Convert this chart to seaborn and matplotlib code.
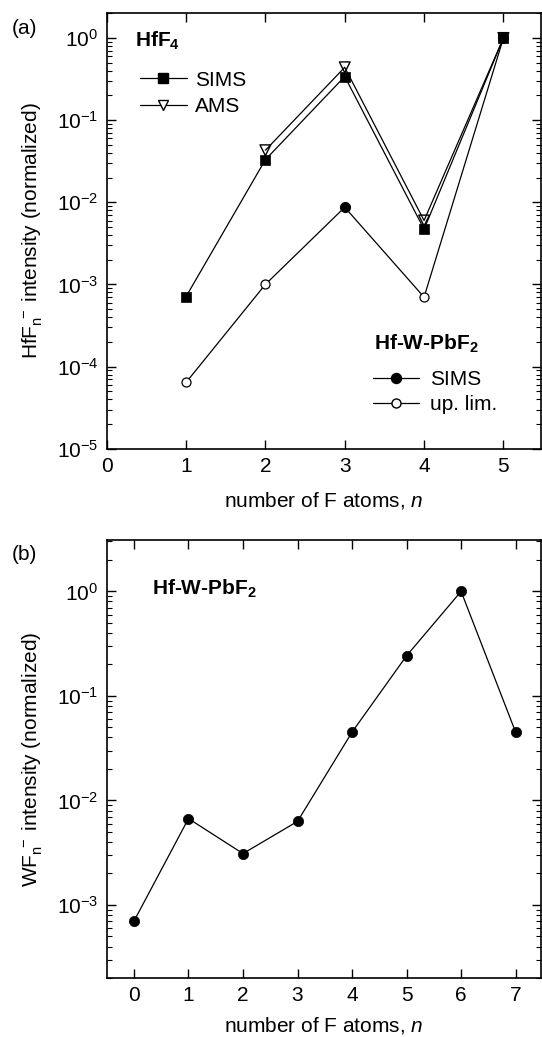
import numpy as np
import pandas as pd
import matplotlib
matplotlib.use("Agg")
import matplotlib.pyplot as plt
import seaborn as sns
from matplotlib.lines import Line2D
from matplotlib.ticker import FixedLocator, LogLocator, NullFormatter, LogFormatterSciNotation

# ---------------- data ----------------
# panel (a): HfF_n^- intensities (normalized)
hff4_n = [1, 2, 3, 4, 5]
hff4_sims = [7.1e-4, 0.033, 0.34, 0.0047, 1.0]
hff4_ams_n = [2, 3, 4, 5]
hff4_ams = [0.043, 0.44, 0.006, 1.0]
hfw_n = [1, 2, 3, 4, 5]
hfw_vals = [6.4e-5, 1.0e-3, 8.7e-3, 7.0e-4, 1.0]
hfw_kind = ["up. lim.", "up. lim.", "SIMS", "up. lim.", "SIMS"]

# panel (b): WF_n^- intensities (normalized)
wf_n = [0, 1, 2, 3, 4, 5, 6, 7]
wf_vals = [7.0e-4, 6.7e-3, 3.1e-3, 6.3e-3, 0.045, 0.242, 1.0, 0.045]

top_xticks = [0, 1, 2, 3, 4, 5]
bot_xticks = [0, 1, 2, 3, 4, 5, 6, 7]

# ---------------- style ----------------
sns.set_theme(style="ticks")
plt.rcParams["font.family"] = ["Liberation Sans", "DejaVu Sans"]
plt.rcParams["mathtext.fontset"] = "custom"
plt.rcParams["mathtext.rm"] = "Liberation Sans"
plt.rcParams["mathtext.it"] = "Liberation Sans:italic"
plt.rcParams["mathtext.bf"] = "Liberation Sans:bold"
plt.rcParams["axes.linewidth"] = 1.2
for key in ["text.color", "axes.labelcolor", "xtick.color", "ytick.color", "axes.edgecolor"]:
    plt.rcParams[key] = "black"

W, H = 542, 1037
fig = plt.figure(figsize=(W / 100, H / 100), dpi=100)

def ax_rect(left, right, top, bottom):
    return [left / W, 1 - bottom / H, (right - left) / W, (bottom - top) / H]

ax1 = fig.add_axes(ax_rect(106.7, 540.7, 13.3, 448.7))
ax2 = fig.add_axes(ax_rect(106.7, 540.7, 540, 978))

LW = 0.9
FS = 15

def style_axis(ax, xticks):
    ax.set_yscale("log")
    ax.xaxis.set_major_locator(FixedLocator(xticks))
    ax.yaxis.set_major_locator(LogLocator(base=10, numticks=20))
    ax.yaxis.set_minor_locator(LogLocator(base=10, subs=np.arange(2, 10), numticks=20))
    ax.yaxis.set_minor_formatter(NullFormatter())
    ax.yaxis.set_major_formatter(LogFormatterSciNotation())
    ax.tick_params(which="major", direction="in", top=True, right=True,
                   length=6.5, width=1.0, labelsize=FS, colors="black", pad=6)
    ax.tick_params(which="minor", direction="in", top=False, right=True,
                   length=3.5, width=0.8, colors="black")
    for s in ax.spines.values():
        s.set_color("black")
        s.set_linewidth(1.2)

# ---------------- panel (a) ----------------
ax = ax1
ax.set_yscale("log")
sns.lineplot(x=hfw_n, y=hfw_vals, ax=ax, color="black", lw=LW, zorder=2)
sns.lineplot(x=hff4_n, y=hff4_sims, ax=ax, color="black", lw=LW, zorder=2)
sns.lineplot(x=hff4_ams_n, y=hff4_ams, ax=ax, color="black", lw=LW, zorder=2)

df_hfw = pd.DataFrame({"n": hfw_n, "v": hfw_vals, "kind": hfw_kind})
filled = df_hfw[df_hfw["kind"] == "SIMS"]
opened = df_hfw[df_hfw["kind"] != "SIMS"]
sns.scatterplot(data=filled, x="n", y="v", ax=ax, marker="o", s=52,
                color="black", edgecolor="black", linewidth=0.8, zorder=3)
sns.scatterplot(data=opened, x="n", y="v", ax=ax, marker="o", s=42,
                facecolor="white", edgecolor="black", linewidth=0.9, zorder=3)
sns.scatterplot(x=hff4_n, y=hff4_sims, ax=ax, marker="s", s=46,
                color="black", edgecolor="black", linewidth=0.5, zorder=4)
sns.scatterplot(x=hff4_ams_n, y=hff4_ams, ax=ax, marker="v", s=60,
                facecolor="none", edgecolor="black", linewidth=1.0, zorder=5)

ax.set_xlim(0, 5.47)
ax.set_ylim(1e-5, 2.0)
style_axis(ax, top_xticks)
ax.set_xlabel("number of F atoms, $\\it{n}$", fontsize=FS)
ax.set_ylabel("HfF$_\\mathregular{n}^{\\ -}$ intensity (normalized)", fontsize=FS)
ax.xaxis.set_label_coords(0.5, -0.095)
ax.yaxis.set_label_coords(-0.142, 0.5)

ax.text(0.0647, 0.923, "HfF$_\\mathbf{4}$", transform=ax.transAxes, fontsize=FS,
        fontweight="bold", va="baseline", ha="left")
h1 = [Line2D([0], [0], color="black", lw=LW, marker="s", ms=7, mfc="black", mec="black"),
      Line2D([0], [0], color="black", lw=LW, marker="v", ms=7.7, mfc="white", mec="black")]
leg1 = ax.legend(h1, ["SIMS", "AMS"], loc="upper left", bbox_to_anchor=(0.077, 0.868),
                 frameon=False, fontsize=FS, handlelength=2.24, handletextpad=0.4,
                 labelspacing=0.37, borderpad=0, borderaxespad=0, numpoints=1)
ax.add_artist(leg1)

ax.text(0.616, 0.2267, "Hf-W-PbF$_\\mathbf{2}$", transform=ax.transAxes, fontsize=FS,
        fontweight="bold", va="baseline", ha="left")
h2 = [Line2D([0], [0], color="black", lw=LW, marker="o", ms=7.2, mfc="black", mec="black"),
      Line2D([0], [0], color="black", lw=LW, marker="o", ms=6.5, mfc="white", mec="black")]
ax.legend(h2, ["SIMS", "up. lim."], loc="upper left", bbox_to_anchor=(0.613, 0.181),
          frameon=False, fontsize=FS, handlelength=2.23, handletextpad=0.5,
          labelspacing=0.29, borderpad=0, borderaxespad=0, numpoints=1)

# ---------------- panel (b) ----------------
ax = ax2
ax.set_yscale("log")
sns.lineplot(x=wf_n, y=wf_vals, ax=ax, color="black", lw=LW, zorder=2)
sns.scatterplot(x=wf_n, y=wf_vals, ax=ax, marker="o", s=55, color="black",
                edgecolor="black", linewidth=0.5, zorder=3)
ax.set_xlim(-0.5, 7.46)
ax.set_ylim(2e-4, 3.1)
style_axis(ax, bot_xticks)
ax.set_xlabel("number of F atoms, $\\it{n}$", fontsize=FS)
ax.set_ylabel("WF$_\\mathregular{n}^{\\ -}$ intensity (normalized)", fontsize=FS)
ax.xaxis.set_label_coords(0.5, -0.085)
ax.yaxis.set_label_coords(-0.142, 0.5)
ax.text(0.104, 0.874, "Hf-W-PbF$_\\mathbf{2}$", transform=ax.transAxes, fontsize=FS,
        fontweight="bold", va="baseline", ha="left")

# panel labels
fig.text(12 / W, 1 - 28 / H, "(a)", fontsize=FS, va="center", ha="left")
fig.text(12 / W, 1 - 555 / H, "(b)", fontsize=FS, va="center", ha="left")

fig.savefig("out.png", dpi=100)
